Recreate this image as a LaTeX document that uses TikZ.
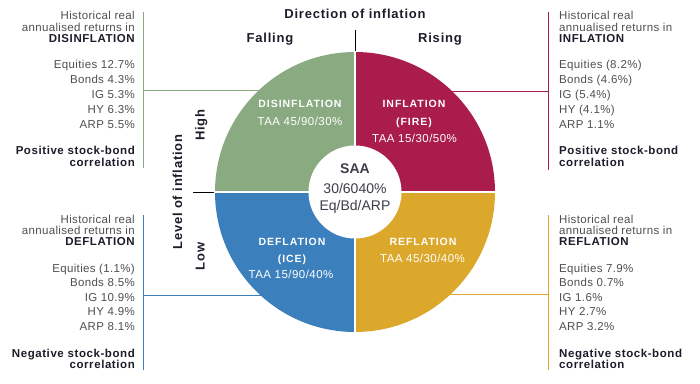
\documentclass[tikz,border=0pt]{standalone}
\usepackage{fontspec}
\setmainfont{Liberation Sans}
\newfontfamily\sidereg[LetterSpace=3]{Liberation Sans}
\newfontfamily\sidebf[LetterSpace=5]{Liberation Sans}
\newfontfamily\axisbf[LetterSpace=6]{Liberation Sans}
\newfontfamily\segbf[LetterSpace=9]{Liberation Sans}
\newfontfamily\segreg[LetterSpace=4]{Liberation Sans}
\definecolor{qgreen}{HTML}{8AAA81}
\definecolor{qred}{HTML}{A91C4B}
\definecolor{qblue}{HTML}{3B7FBD}
\definecolor{qyellow}{HTML}{DBA82C}
\definecolor{txtgray}{HTML}{4F4F4F}
\definecolor{txtdark}{HTML}{1C1C2A}
\begin{document}
\begin{tikzpicture}[x=1pt,y=-1pt,
  sidetxt/.style={font=\sidereg\fontsize{11.5}{13}\selectfont, text=txtgray, inner sep=0},
  sidehead/.style={font=\sidebf\bfseries\fontsize{11.5}{13}\selectfont, text=txtdark, inner sep=0},
  axistxt/.style={font=\axisbf\bfseries\fontsize{13}{15}\selectfont, text=txtdark, inner sep=0},
  segtitle/.style={font=\segbf\bfseries\fontsize{10.5}{12}\selectfont, text=white, inner sep=0, anchor=base},
  segtaa/.style={font=\segreg\fontsize{11.5}{13}\selectfont, text=white, inner sep=0, anchor=base},
  saatxt/.style={font=\fontsize{14}{16}\selectfont, text=txtdark!85, inner sep=0, anchor=base},
  Lalign/.style={anchor=base east},
  Ralign/.style={anchor=base west},
  conn/.style={line width=1pt},
  blackline/.style={line width=1pt, black}
]
\useasboundingbox (0,0) rectangle (700,383);

% ---------- coordinates ----------
\coordinate (C) at (355,192);
\coordinate (gTop) at (143,12);   \coordinate (gBot) at (143,168);
\coordinate (gMid) at (143,90);   \coordinate (gIn) at (275,90);
\coordinate (rTop) at (548,12);   \coordinate (rBot) at (548,170);
\coordinate (rMid) at (548,91);   \coordinate (rIn) at (435,91);
\coordinate (bTop) at (143.5,215); \coordinate (bBot) at (143.5,370);
\coordinate (bMid) at (143.5,295); \coordinate (bIn) at (275,295);
\coordinate (yTop) at (548,215);  \coordinate (yBot) at (548,370);
\coordinate (yMid) at (548,294.5); \coordinate (yIn) at (435,294.5);
\coordinate (topA) at (355,30);   \coordinate (topB) at (355,54);
\coordinate (leftA) at (193,192); \coordinate (leftB) at (217,192);

% ---------- connectors ----------
\draw[conn, qgreen] (gTop) -- (gBot);
\draw[conn, qgreen] (gMid) -- (gIn);
\draw[conn, qred] (rTop) -- (rBot);
\draw[conn, qred] (rMid) -- (rIn);
\draw[conn, qblue] (bTop) -- (bBot);
\draw[conn, qblue] (bMid) -- (bIn);
\draw[conn, qyellow] (yTop) -- (yBot);
\draw[conn, qyellow] (yMid) -- (yIn);
\draw[blackline] (topA) -- (topB);
\draw[blackline] (leftA) -- (leftB);

% ---------- pie ----------
\fill[qgreen] (C) -- ++(-140,0) arc[start angle=180, end angle=270, radius=140] -- cycle;
\fill[qred] (C) -- ++(0,-140) arc[start angle=270, end angle=360, radius=140] -- cycle;
\fill[qyellow] (C) -- ++(140,0) arc[start angle=0, end angle=90, radius=140] -- cycle;
\fill[qblue] (C) -- ++(0,140) arc[start angle=90, end angle=180, radius=140] -- cycle;
\draw[white, line width=1.5pt] (355,51) -- (355,333);
\draw[white, line width=1.5pt] (214,192) -- (496,192);
\fill[white] (C) circle[radius=46.5];

% ---------- axis labels ----------
\node[axistxt, anchor=base] (dir) at (355,18) {Direction of inflation};
\node[axistxt, anchor=base] (fall) at (270,42) {Falling};
\node[axistxt, anchor=base] (rise) at (440,42) {Rising};
\node[axistxt, anchor=base, rotate=90] (lvl) at (182,192) {Level of inflation};
\node[axistxt, anchor=base, rotate=90] (high) at (204.5,125) {High};
\node[axistxt, anchor=base, rotate=90] (low) at (204.5,256.5) {Low};

% ---------- quadrant texts ----------
\node[segtitle] (q1a) at (300,107) {DISINFLATION};
\node[segtaa] (q1b) at (300,125) {TAA 45/90/30\%};
\node[segtitle] (q2a) at (414,107) {INFLATION};
\node[segtitle] (q2b) at (414,125) {(FIRE)};
\node[segtaa] (q2c) at (414.5,142) {TAA 15/30/50\%};
\node[segtitle] (q3a) at (292,245) {DEFLATION};
\node[segtitle] (q3b) at (292,262) {(ICE)};
\node[segtaa] (q3c) at (291,278) {TAA 15/90/40\%};
\node[segtitle] (q4a) at (423,245) {REFLATION};
\node[segtaa] (q4b) at (422.5,262) {TAA 45/30/40\%};

\node[saatxt, font=\bfseries\fontsize{14}{16}\selectfont] (saa1) at (355,173) {SAA};
\node[saatxt] (saa2) at (355,193) {30/6040\%};
\node[saatxt] (saa3) at (355,210) {Eq/Bd/ARP};

% ---------- left top: DISINFLATION ----------
\node[sidetxt, Lalign] (ltH1) at (135,19.5) {Historical real};
\node[sidetxt, Lalign] (ltH2) at (135,31) {annualised returns in};
\node[sidehead, Lalign] (ltH3) at (135,42) {DISINFLATION};
\foreach \t [count=\i] in {Equities 12.7\%, Bonds 4.3\%, IG 5.3\%, HY 6.3\%, ARP 5.5\%}
  \node[sidetxt, Lalign] (ltD\i) at (135,{68.5+14.9*(\i-1)}) {\t};
\node[sidehead, Lalign] (ltF1) at (135,154) {Positive stock-bond};
\node[sidehead, Lalign] (ltF2) at (135,166) {correlation};

% ---------- left bottom: DEFLATION ----------
\node[sidetxt, Lalign] (lbH1) at (135,223) {Historical real};
\node[sidetxt, Lalign] (lbH2) at (135,234.5) {annualised returns in};
\node[sidehead, Lalign] (lbH3) at (135,245) {DEFLATION};
\foreach \t [count=\i] in {Equities (1.1\%), Bonds 8.5\%, IG 10.9\%, HY 4.9\%, ARP 8.1\%}
  \node[sidetxt, Lalign] (lbD\i) at (135,{272+14.6*(\i-1)}) {\t};
\node[sidehead, Lalign] (lbF1) at (135,357) {Negative stock-bond};
\node[sidehead, Lalign] (lbF2) at (135,368.5) {correlation};

% ---------- right top: INFLATION ----------
\node[sidetxt, Ralign] (rtH1) at (559,19.5) {Historical real};
\node[sidetxt, Ralign] (rtH2) at (559,31) {annualised returns in};
\node[sidehead, Ralign] (rtH3) at (559,42) {INFLATION};
\foreach \t [count=\i] in {Equities (8.2\%), Bonds (4.6\%), IG (5.4\%), HY (4.1\%), ARP 1.1\%}
  \node[sidetxt, Ralign] (rtD\i) at (559,{68.5+14.9*(\i-1)}) {\t};
\node[sidehead, Ralign] (rtF1) at (559,154) {Positive stock-bond};
\node[sidehead, Ralign] (rtF2) at (559,166) {correlation};

% ---------- right bottom: REFLATION ----------
\node[sidetxt, Ralign] (rbH1) at (559,223) {Historical real};
\node[sidetxt, Ralign] (rbH2) at (559,234.5) {annualised returns in};
\node[sidehead, Ralign] (rbH3) at (559,245) {REFLATION};
\foreach \t [count=\i] in {Equities 7.9\%, Bonds 0.7\%, IG 1.6\%, HY 2.7\%, ARP 3.2\%}
  \node[sidetxt, Ralign] (rbD\i) at (559,{272+14.6*(\i-1)}) {\t};
\node[sidehead, Ralign] (rbF1) at (559,357) {Negative stock-bond};
\node[sidehead, Ralign] (rbF2) at (559,368.5) {correlation};
\end{tikzpicture}
\end{document}
